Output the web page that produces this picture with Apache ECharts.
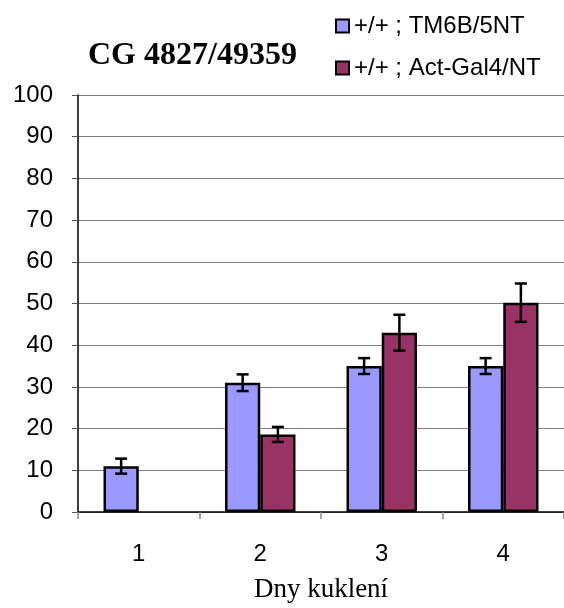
<!DOCTYPE html>
<html>
<head>
<meta charset="utf-8">
<script src="https://cdn.jsdelivr.net/npm/echarts@6/dist/echarts.min.js"></script>
<style>html,body{margin:0;padding:0;background:#fff;}#c{width:564px;height:608px;}</style>
</head>
<body>
<div id="c"></div>
<script>
var categories = ['1', '2', '3', '4'];
var seriesNames = ['+/+ ; TM6B/5NT', '+/+ ; Act-Gal4/NT'];
var tm6bValues = [11, 31, 35, 35];
var tm6bErrors = [1.8, 2, 1.9, 1.9];
var actValues = ['-', 18.6, 43, 50.2];
var actErrors = [null, 1.8, 4.3, 4.6];
var yTicks = [0, 10, 20, 30, 40, 50, 60, 70, 80, 90, 100];

var colors = ['#9999FF', '#993366'];

function errData(vals, errs) {
  var out = [];
  for (var i = 0; i < vals.length; i++) {
    if (vals[i] === '-' || errs[i] == null) continue;
    out.push([i, vals[i] - errs[i], vals[i] + errs[i]]);
  }
  return out;
}

function errRender(sign) {
  return function (params, api) {
    var band = api.size([1, 0])[0];
    var off = sign * band * 0.145;
    var lo = api.coord([api.value(0), api.value(1)]);
    var hi = api.coord([api.value(0), api.value(2)]);
    var x = lo[0] + off;
    var cap = 6;
    var st = { stroke: '#000', lineWidth: 2.5 };
    return {
      type: 'group',
      children: [
        { type: 'line', shape: { x1: x, y1: lo[1], x2: x, y2: hi[1] }, style: st },
        { type: 'line', shape: { x1: x - cap, y1: lo[1], x2: x + cap, y2: lo[1] }, style: st },
        { type: 'line', shape: { x1: x - cap, y1: hi[1], x2: x + cap, y2: hi[1] }, style: st }
      ]
    };
  };
}

var chart = echarts.init(document.getElementById('c'), null, { renderer: 'canvas' });
chart.setOption({
  animation: false,
  backgroundColor: '#fff',
  title: {
    text: 'CG 4827/49359',
    left: 88, top: 40, padding: 0,
    textStyle: { fontFamily: 'Liberation Serif', fontWeight: 'bold', fontSize: 32, lineHeight: 32, color: '#000' }
  },
  legend: {
    orient: 'vertical',
    left: 335, top: 14, padding: 0,
    itemWidth: 13, itemHeight: 13,
    itemGap: 18,
    icon: 'rect',
    data: seriesNames,
    itemStyle: { borderColor: '#000', borderWidth: 2 },
    textStyle: { fontFamily: 'Liberation Sans', fontSize: 24, lineHeight: 24, color: '#000' }
  },
  grid: { left: 78, right: 0, top: 95, bottom: 92, containLabel: false },
  xAxis: {
    type: 'category',
    data: categories,
    name: 'Dny kuklení',
    nameLocation: 'middle',
    nameGap: 64,
    nameTextStyle: { fontFamily: 'Liberation Serif', fontSize: 27, lineHeight: 27, color: '#000' },
    axisLine: { lineStyle: { color: '#000', width: 1.5 } },
    axisTick: { show: true, length: 7, lineStyle: { color: '#888', width: 1.5 } },
    axisLabel: { fontFamily: 'Liberation Sans', fontSize: 24, lineHeight: 24, color: '#000', margin: 30 }
  },
  yAxis: {
    type: 'value',
    min: 0, max: 100, interval: 10,
    axisLine: { show: true, lineStyle: { color: '#000', width: 1.5 } },
    axisTick: { show: true, length: 6, lineStyle: { color: '#555', width: 1 } },
    axisLabel: {
      fontFamily: 'Liberation Sans', fontSize: 24, color: '#000', margin: 25,
      formatter: function (v) { return yTicks.indexOf(v) >= 0 ? String(v) : ''; }
    },
    splitLine: { show: true, lineStyle: { color: '#808080', width: 1.2 } }
  },
  series: [
    {
      name: seriesNames[0], type: 'bar', data: tm6bValues,
      barCategoryGap: '42%', barGap: '0%',
      itemStyle: { color: colors[0], borderColor: '#000', borderWidth: 2.5 }
    },
    {
      name: seriesNames[1], type: 'bar', data: actValues,
      barCategoryGap: '42%', barGap: '0%',
      itemStyle: { color: colors[1], borderColor: '#000', borderWidth: 2.5 }
    },
    {
      type: 'custom', renderItem: errRender(-1), data: errData(tm6bValues, tm6bErrors),
      encode: { x: 0, y: [1, 2] }, z: 10, silent: true
    },
    {
      type: 'custom', renderItem: errRender(1), data: errData(actValues, actErrors),
      encode: { x: 0, y: [1, 2] }, z: 10, silent: true
    }
  ]
});
</script>
</body>
</html>
